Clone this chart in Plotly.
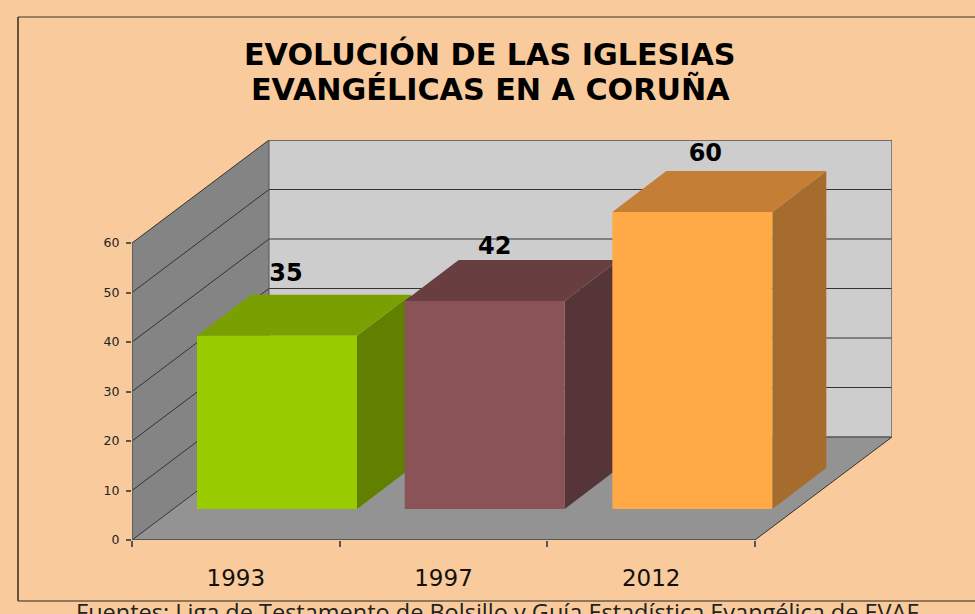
import plotly.graph_objects as go

# ---- data ----
years = ["1993", "1997", "2012"]
churches = [35, 42, 60]
y_ticks = [0, 10, 20, 30, 40, 50, 60]
title_lines = ["EVOLUCIÓN DE LAS IGLESIAS", "EVANGÉLICAS EN A CORUÑA"]
source = "Fuentes: Liga de Testamento de Bolsillo y Guía Estadística Evangélica de EVAF"

front = ["#99CC00", "#8A5357", "#FFA947"]
top = ["#7A9F00", "#693E41", "#C47E36"]
side = ["#628000", "#563538", "#A56C2E"]
label_lift = [12.3, 10.7, 11.5]   # value-label height above bar front top (y units)
label_right = [89, 90, 93]        # value-label centre, pixels from bar front-left corner

# ---- geometry (pixels of the page) ----
W, H = 975, 614
L, T, B = 132, 140, 74
PW, PH = 760, 400
CAT_PX = 623 / 3
UNIT_PX = 297 / 60
DX = 137 / CAT_PX         # full floor depth, in x units
DY = 103 / UNIT_PX        # full floor depth, in y units
BAR_W = 160 / CAT_PX
BAR_X0 = 65 / CAT_PX
BAR_Y0 = 31 / UNIT_PX
BAR_DX = 54 / CAT_PX
BAR_DY = 41 / UNIT_PX
ymax = y_ticks[-1]
ncat = len(years)


def paper_x(p):
    return (p - L) / PW


def paper_y(p):
    return (T + PH - p) / PH


fig = go.Figure()


def poly(xs, ys, color):
    fig.add_trace(go.Scatter(x=xs + xs[:1], y=ys + ys[:1], mode="lines", fill="toself",
                             fillcolor=color, line=dict(width=0, color=color),
                             hoverinfo="skip", showlegend=False))


def seg(xs, ys, color="#333333", width=1):
    fig.add_trace(go.Scatter(x=xs, y=ys, mode="lines", line=dict(color=color, width=width),
                             hoverinfo="skip", showlegend=False, cliponaxis=False))


# walls and floor
poly([DX, ncat + DX, ncat + DX, DX], [DY, DY, ymax + DY, ymax + DY], "#CDCDCD")
poly([0, DX, DX, 0], [0, DY, ymax + DY, ymax], "#848484")
poly([0, ncat, ncat + DX, DX], [0, 0, DY, DY], "#939393")

# gridlines
for v in y_ticks[1:]:
    seg([0, DX, ncat + DX], [v, v + DY, v + DY])
seg([0, DX], [0, DY])
seg([ncat, ncat + DX], [0, DY])
seg([DX, ncat + DX], [DY, DY], "#555555", 1.5)
seg([DX, DX], [DY, ymax + DY], "#555555", 1)
seg([ncat + DX, ncat + DX], [DY, ymax + DY], "#666666", 1.5)
seg([DX, ncat + DX], [ymax + DY, ymax + DY], "#666666", 1.5)
seg([0, 0], [0, ymax], "#555555", 1.5)
seg([0, ncat], [0, 0], "#444444", 1.5)

# bars
for i, v in enumerate(churches):
    x0 = i + BAR_X0
    x1 = x0 + BAR_W
    y0 = BAR_Y0
    y1 = BAR_Y0 + v
    poly([x1, x1 + BAR_DX, x1 + BAR_DX, x1], [y0, y0 + BAR_DY, y1 + BAR_DY, y1], side[i])
    poly([x0, x1, x1 + BAR_DX, x0 + BAR_DX], [y1, y1, y1 + BAR_DY, y1 + BAR_DY], top[i])
    poly([x0, x1, x1, x0], [y0, y0, y1, y1], front[i])

# value labels
fig.add_trace(go.Scatter(
    x=[i + BAR_X0 + r / CAT_PX for i, r in zip(range(ncat), label_right)],
    y=[BAR_Y0 + v + d for v, d in zip(churches, label_lift)],
    mode="text", text=[str(v) for v in churches], textposition="middle center",
    textfont=dict(family="DejaVu Sans", size=24, color="#000000", weight="bold"),
    hoverinfo="skip", showlegend=False, cliponaxis=False))

# frame
shapes = [dict(type="line", xref="paper", yref="paper",
               x0=paper_x(a), y0=paper_y(b), x1=paper_x(c), y1=paper_y(d),
               line=dict(color=col, width=1.5), layer="above")
          for a, b, c, d, col in [(18, 17, 980, 17, "#7A6650"),
                                  (18, 17, 18, 601, "#3A2A18"),
                                  (18, 601, 980, 601, "#6E5A46")]]

annotations = [
    dict(text=t, x=paper_x(490), y=paper_y(yy), xref="paper", yref="paper", showarrow=False,
         xanchor="center", yanchor="middle",
         font=dict(family="DejaVu Sans", size=30.2, color="#000000", weight="bold"))
    for t, yy in zip(title_lines, [54, 89])
]
annotations.append(dict(text=source, x=paper_x(497), y=paper_y(594), xref="paper", yref="paper",
                        showarrow=False, xanchor="center", yanchor="top",
                        font=dict(family="Open Sans", size=23.5, color="#222222")))

fig.update_layout(
    width=W, height=H, autosize=False,
    margin=dict(l=L, r=W - L - PW, t=T, b=B, pad=0),
    paper_bgcolor="#F9CB9C", plot_bgcolor="rgba(0,0,0,0)",
    showlegend=False, shapes=shapes, annotations=annotations,
    xaxis=dict(range=[0, PW / CAT_PX], showgrid=False, zeroline=False, showline=False,
               tickmode="array", tickvals=[i + 0.5 for i in range(ncat)], ticktext=years,
               ticks="", ticklabelstandoff=22,
               tickfont=dict(family="DejaVu Sans", size=23, color="#111111"),
               minor=dict(tickmode="array", tickvals=list(range(ncat + 1)), ticks="outside",
                          ticklen=6, tickcolor="#555555", tickwidth=1.5)),
    yaxis=dict(range=[0, PH / UNIT_PX], showgrid=False, zeroline=False, showline=False,
               tickmode="array", tickvals=y_ticks, ticks="outside", ticklen=5,
               ticklabelstandoff=4,
               tickcolor="#555555", tickwidth=1.5,
               tickfont=dict(family="DejaVu Sans", size=12.5, color="#222222")),
)

fig.write_html("out.html", config=dict(displayModeBar=False),
               post_script="document.body.style.margin='0';document.body.style.overflow='hidden';")
